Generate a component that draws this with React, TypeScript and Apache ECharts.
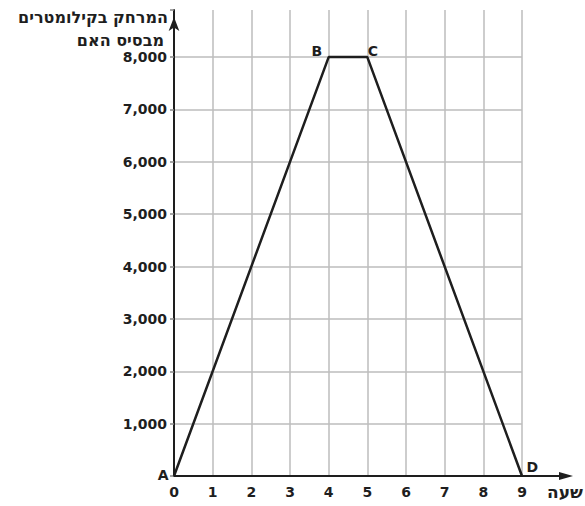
import React, { useEffect, useRef } from "react";
import * as echarts from "echarts";

const hours = [0, 4, 5, 9];
const distances = [0, 8000, 8000, 0];
const pointNames = ["A", "B", "C", "D"];
const yTitleLines = ["המרחק בקילומטרים", "מבסיס האם"];
const xTitle = "שעה";

const GRID_LEFT = 174;
const GRID_RIGHT = 63;
const GRID_TOP = 10;
const GRID_BOTTOM = 30;
const W = 585;
const H = 506;
const FONT = "'DejaVu Sans', 'Liberation Sans', sans-serif";
const INK = "#1e1e1e";

const labelPlacement: Record<string, any> = {
  A: { position: "left", distance: 5, offset: [0, -1] },
  B: { position: "left", distance: 3, offset: [-3, -6] },
  C: { position: "right", distance: 0, offset: [0, -6] },
  D: { position: "right", distance: 4, offset: [0, -9] },
};

export default function App() {
  const ref = useRef<HTMLDivElement>(null);
  useEffect(() => {
    if (!ref.current) return;
    const chart = echarts.init(ref.current, undefined, { renderer: "svg" });
    const axisY = H - GRID_BOTTOM;
    const gridRightX = W - GRID_RIGHT;
    const splitColors = Array.from({ length: 10 }, (_, i) => (i === 9 ? "rgba(0,0,0,0)" : "#bdbdbd"));
    chart.setOption({
      animation: false,
      backgroundColor: "#ffffff",
      grid: { left: GRID_LEFT, right: GRID_RIGHT, top: GRID_TOP, bottom: GRID_BOTTOM },
      xAxis: {
        type: "value",
        min: 0,
        max: 9,
        interval: 1,
        axisLine: { show: true, onZero: false, lineStyle: { color: INK, width: 2 } },
        axisTick: { show: false },
        axisLabel: { color: INK, fontFamily: FONT, fontWeight: "bold", fontSize: 14, margin: 9 },
        splitLine: { show: true, lineStyle: { color: "#bdbdbd", width: 1.5 } },
      },
      yAxis: {
        type: "value",
        min: 0,
        max: 8900,
        interval: 1000,
        axisLine: {
          show: true,
          onZero: false,
          lineStyle: { color: INK, width: 2 },
          symbol: ["none", "arrow"],
          symbolSize: [8, 14],
          symbolOffset: [0, -7],
        },
        axisTick: { show: true, length: 4, lineStyle: { color: "#888", width: 1.5 } },
        axisLabel: {
          color: INK,
          fontFamily: FONT,
          fontWeight: "bold",
          fontSize: 14,
          margin: 7,
          formatter: (v: number) => (v > 0 && v % 1000 === 0 ? v.toLocaleString("en-US") : ""),
        },
        splitLine: { show: true, lineStyle: { color: splitColors, width: 1.5 } },
      },
      graphic: [
        {
          type: "line",
          shape: { x1: gridRightX, y1: axisY, x2: W - 18, y2: axisY },
          style: { stroke: INK, lineWidth: 2 },
        },
        {
          type: "polygon",
          shape: { points: [[W - 26, axisY - 4], [W - 12, axisY], [W - 26, axisY + 4]] },
          style: { fill: INK },
        },
        {
          type: "text",
          right: W - 168,
          top: 9,
          style: { text: yTitleLines[0], fill: INK, font: `bold 16px ${FONT}` },
        },
        {
          type: "text",
          right: W - 164,
          top: 32,
          style: { text: yTitleLines[1], fill: INK, font: `bold 16px ${FONT}` },
        },
        {
          type: "text",
          right: 2,
          top: 483,
          style: { text: xTitle, fill: INK, font: `bold 17px ${FONT}` },
        },
      ],
      series: [
        {
          type: "line",
          data: hours.map((h, i) => ({
            value: [h, distances[i]],
            name: pointNames[i],
            label: labelPlacement[pointNames[i]],
          })),
          symbol: "circle",
          symbolSize: 1,
          itemStyle: { color: INK },
          lineStyle: { color: INK, width: 2.5 },
          label: {
            show: true,
            formatter: (p: any) => p.name,
            color: INK,
            fontFamily: FONT,
            fontWeight: "bold",
            fontSize: 14,
          },
          z: 5,
        },
      ],
    });
    return () => chart.dispose();
  }, []);
  return (
    <div
      ref={ref}
      style={{ position: "fixed", left: 0, top: 0, width: W, height: H, background: "#fff" }}
    />
  );
}
